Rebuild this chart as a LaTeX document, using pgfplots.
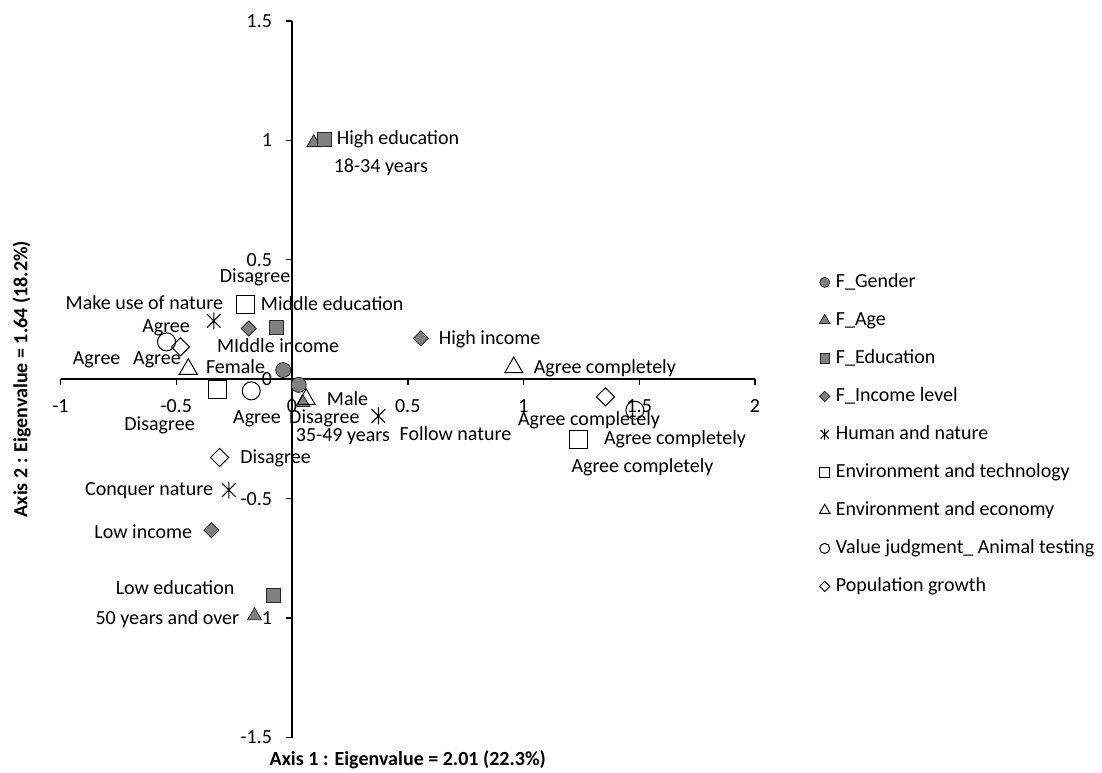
\documentclass[border=0pt]{standalone}
\usepackage{fontspec}
\setmainfont{Carlito}
\usepackage{pgfplots}
\pgfplotsset{compat=1.18}
\pgfdeclareplotmark{xstar}{%
  \pgfpathmoveto{\pgfqpoint{-0.8\pgfplotmarksize}{-0.8\pgfplotmarksize}}%
  \pgfpathlineto{\pgfqpoint{0.8\pgfplotmarksize}{0.8\pgfplotmarksize}}%
  \pgfpathmoveto{\pgfqpoint{-0.8\pgfplotmarksize}{0.8\pgfplotmarksize}}%
  \pgfpathlineto{\pgfqpoint{0.8\pgfplotmarksize}{-0.8\pgfplotmarksize}}%
  \pgfpathmoveto{\pgfqpoint{0pt}{-\pgfplotmarksize}}%
  \pgfpathlineto{\pgfqpoint{0pt}{\pgfplotmarksize}}%
  \pgfusepathqstroke}
\definecolor{mgray}{RGB}{128,128,128}
\begin{document}
\begin{tikzpicture}[font=\fontsize{10}{12}\selectfont, lbl/.style={inner sep=0pt}]
\useasboundingbox (-30.25pt,-17.25pt) rectangle (520.75pt,368.75pt);
\begin{axis}[
  at={(0,0)}, anchor=south west,
  scale only axis, width=347.25pt, height=358.35pt,
  xmin=-1, xmax=2, ymin=-1.5, ymax=1.5,
  axis lines=middle,
  axis line style={-, line width=0.75pt, black},
  xtick={-1,-0.5,0.5,1,1.5,2},
  xticklabels={-1,-0.5,0.5,1,1.5,2},
  ytick={-1.5,-1,-0.5,0.5,1,1.5},
  yticklabels={-1.5,-1,-0.5,0.5,1,1.5},
  extra x ticks={0}, extra x tick labels={0},
  extra y ticks={0}, extra y tick labels={0},
  tick align=outside,
  major tick length=2.8pt,
  tick style={black, line width=0.75pt},
  xticklabel style={anchor=north, yshift=-7pt, inner sep=0pt},
  yticklabel style={anchor=east, xshift=-7pt, inner sep=0pt},
  clip=false,
  only marks,
  legend image code/.code={\draw[#1] plot coordinates {(0pt,0pt)};},
  legend cell align=left,
  legend style={draw=none, fill=none, at={(1.0837,0.6537)}, anchor=north west,
    row sep=10pt, column sep=3pt,
    nodes={inner sep=0pt, text height=7pt, text depth=2pt}},
]
% F_Gender
\addplot[mark=*, mark size=3.75pt, mark options={draw=black!85, fill=mgray, line width=0.4pt},
  legend image post style={mark size=2.5pt}]
  coordinates {(-0.038,0.038) (0.029,-0.024)};
\addlegendentry{F\_Gender}
% F_Age
\addplot[mark=triangle*, mark size=4pt, mark options={draw=black!85, fill=mgray, line width=0.4pt},
  legend image post style={mark size=3pt}]
  coordinates {(0.094,0.990) (0.047,-0.098) (-0.162,-0.990)};
\addlegendentry{F\_Age}
% F_Education
\addplot[mark=square*, mark size=3.5pt, mark options={draw=black!85, fill=mgray, line width=0.4pt},
  legend image post style={mark size=2.4pt}]
  coordinates {(0.140,1.004) (-0.067,0.216) (-0.081,-0.907)};
\addlegendentry{F\_Education}
% F_Income level
\addplot[mark=square*, mark size=2.65pt, mark options={rotate=45, draw=black!85, fill=mgray, line width=0.4pt},
  legend image post style={mark size=1.8pt}]
  coordinates {(0.557,0.171) (-0.187,0.212) (-0.348,-0.632)};
\addlegendentry{F\_Income level}
% Human and nature
\addplot[mark=xstar, mark size=4.25pt, mark options={draw=black, line width=0.5pt},
  legend image post style={mark size=2.6pt}]
  coordinates {(-0.338,0.244) (0.373,-0.154) (-0.273,-0.464)};
\addlegendentry{Human and nature}
% Environment and technology
\addplot[mark=square, mark size=4.5pt, mark options={draw=black, fill=none, line width=0.5pt},
  legend image post style={mark size=2.4pt}]
  coordinates {(-0.201,0.314) (-0.323,-0.042) (1.236,-0.251)};
\addlegendentry{Environment and technology}
% Environment and economy
\addplot[mark=triangle, mark size=5.2pt, mark options={draw=black, fill=none, line width=0.5pt},
  legend image post style={mark size=3pt}]
  coordinates {(-0.448,0.042) (0.061,-0.084) (0.958,0.049)};
\addlegendentry{Environment and economy}
% Value judgment_ Animal testing
\addplot[mark=o, mark size=4.5pt, mark options={draw=black, fill=none, line width=0.5pt},
  legend image post style={mark size=2.5pt}]
  coordinates {(-0.542,0.156) (-0.176,-0.049) (1.481,-0.130)};
\addlegendentry{Value judgment\_ Animal testing}
% Population growth
\addplot[mark=square, mark size=3.2pt, mark options={rotate=45, draw=black, fill=none, line width=0.5pt},
  legend image post style={mark size=1.8pt}]
  coordinates {(-0.482,0.135) (-0.313,-0.328) (1.354,-0.074)};
\addlegendentry{Population growth}

% point labels
\node[lbl, anchor=west] at (axis cs:0.192,1.005) {High education};
\node[lbl, anchor=west] at (axis cs:0.179,0.885) {18-34 years};
\node[lbl, anchor=east] at (axis cs:-0.006,0.425) {Disagree};
\node[lbl, anchor=west] at (axis cs:-0.136,0.315) {Middle education};
\node[lbl, anchor=east] at (axis cs:-0.296,0.319) {Make use of nature};
\node[lbl] at (axis cs:-0.544,0.215) {Agree};
\node[lbl] at (axis cs:-0.060,0.139) {MIddle income};
\node[lbl] at (axis cs:-0.844,0.083) {Agree};
\node[lbl] at (axis cs:-0.583,0.083) {Agree};
\node[lbl] at (axis cs:-0.244,0.051) {Female};
\node[lbl] at (axis cs:0.240,-0.082) {Male};
\node[lbl] at (axis cs:-0.572,-0.195) {Disagree};
\node[lbl] at (axis cs:-0.151,-0.166) {Agree};
\node[lbl] at (axis cs:0.140,-0.162) {Disagree};
\node[lbl] at (axis cs:0.220,-0.241) {35-49 years};
\node[lbl] at (axis cs:0.706,-0.229) {Follow nature};
\node[lbl] at (axis cs:-0.071,-0.333) {Disagree};
\node[lbl, anchor=east] at (axis cs:-0.339,-0.467) {Conquer nature};
\node[lbl, anchor=west] at (axis cs:0.633,0.169) {High income};
\node[lbl, anchor=west] at (axis cs:1.043,0.047) {Agree completely};
\node[lbl] at (axis cs:1.283,-0.174) {Agree completely};
\node[lbl, anchor=west] at (axis cs:1.346,-0.250) {Agree completely};
\node[lbl] at (axis cs:1.514,-0.367) {Agree completely};
\node[lbl, anchor=east] at (axis cs:-0.430,-0.639) {Low income};
\node[lbl] at (axis cs:-0.505,-0.873) {Low education};
\node[lbl, anchor=east] at (axis cs:-0.227,-1.003) {50 years and over};

% axis titles
\node[font=\fontsize{10}{12}\selectfont\bfseries] at ([yshift=-11.25pt]rel axis cs:0.5,0) {Axis 1 : Eigenvalue = 2.01 (22.3\%)};
\node[font=\fontsize{10}{12}\selectfont\bfseries, rotate=90] at ([xshift=-19.4pt]rel axis cs:0,0.5) {Axis 2 : Eigenvalue = 1.64 (18.2\%)};
\end{axis}
\end{tikzpicture}
\end{document}
